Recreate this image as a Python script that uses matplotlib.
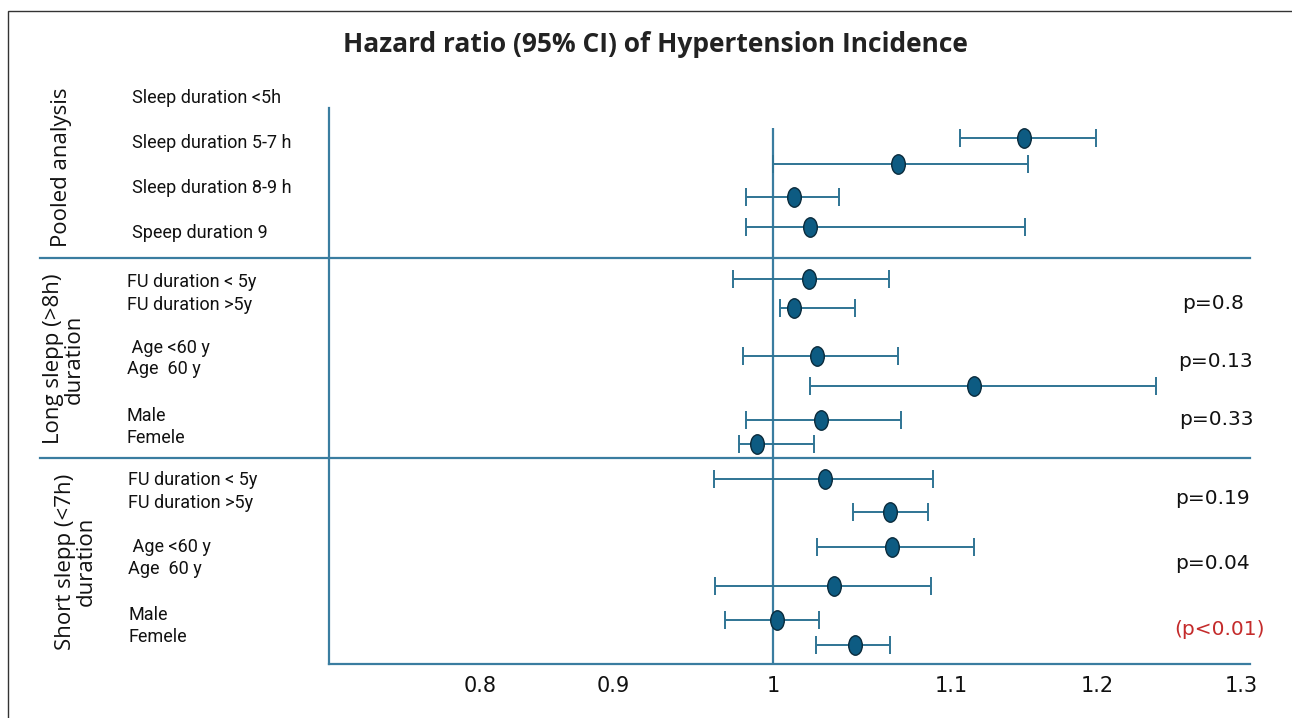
import numpy as np
import matplotlib.pyplot as plt
from matplotlib import font_manager
from matplotlib.path import Path
from matplotlib.transforms import Affine2D
from matplotlib.patches import Rectangle

# ---- data ----
title = "Hazard ratio (95% CI) of Hypertension Incidence"

row_labels = [
    "Sleep duration <5h", "Sleep duration 5-7 h", "Sleep duration 8-9 h", "Speep duration 9",
    "FU duration < 5y", "FU duration >5y", " Age <60 y", "Age  60 y", "Male", "Femele",
    "FU duration < 5y", "FU duration >5y", " Age <60 y", "Age  60 y", "Male", "Femele",
]
group_labels = ["Pooled analysis", "Long slepp (>8h)\nduration", "Short slepp (<7h)\nduration"]

hr      = [1.150, 1.070, 1.012, 1.021, 1.020, 1.012, 1.025, 1.116,
           1.027, 0.990, 1.029, 1.066, 1.067, 1.034, 1.002, 1.046]
ci_low  = [1.106, 1.000, 0.983, 0.983, 0.975, 1.004, 0.981, 1.021,
           0.983, 0.979, 0.963, 1.045, 1.025, 0.964, 0.970, 1.024]
ci_high = [1.199, 1.153, 1.037, 1.151, 1.065, 1.046, 1.070, 1.241,
           1.072, 1.023, 1.090, 1.087, 1.116, 1.089, 1.026, 1.066]

p_labels = ["p=0.8", "p=0.13", "p=0.33", "p=0.19", "p=0.04", "(p<0.01)"]
tick_values = [0.8, 0.9, 1.0, 1.1, 1.2, 1.3]
tick_labels = ["0.8", "0.9", "1", "1.1", "1.2", "1.3"]

# ---- layout (row units: one unit ~ half a label pair) ----
label_y = [0, 2, 4, 6, 8.16, 9.2, 11.11, 12.04, 14.13, 15.1,
           16.98, 18.0, 19.96, 20.93, 22.98, 23.98]
label_px = [132, 132, 132, 132, 127, 127, 127, 127, 127, 127,
            128, 128, 128, 128, 128, 128]
est_y = [1.76, 2.93, 4.4, 5.72, 8.04, 9.33, 11.45, 12.8,
         14.31, 15.38, 16.93, 18.4, 19.96, 21.69, 23.2, 24.31]
p_y = [9.13, 11.73, 14.31, 17.82, 20.67, 23.64]
p_px = [1182, 1178, 1179, 1175, 1175, 1174]
group_y = [3.07, 11.6, 20.6]
group_px = [61, 64, 76]
sep_y = [7.11, 16.0]

# the reference axis is drawn with uneven spacing between tick labels
knot_vals = [0.6, 0.8, 0.9, 1.0, 1.1, 1.2, 1.3, 1.4]
knot_pos = [214, 480, 613, 773, 951, 1097, 1241, 1385]

def fwd(x):
    return np.interp(x, knot_vals, knot_pos)

def inv(x):
    return np.interp(x, knot_pos, knot_vals)

line_col = "#3A7DA0"
err_col = "#2F7494"
dot_col = "#0D5B82"
dot_edge = "#0A2B3C"

names = {f.name for f in font_manager.fontManager.ttflist}
narrow = "Liberation Sans Narrow" if "Liberation Sans Narrow" in names else "Roboto"

W, H = 1292, 718
fig = plt.figure(figsize=(W / 100, H / 100), dpi=100)
ax_l, ax_r, ax_t, ax_b = 329, 1250, 108, 664
ax = fig.add_axes([ax_l / W, 1 - ax_b / H, (ax_r - ax_l) / W, (ax_b - ax_t) / H])

def frac(px):
    return (px - ax_l) / (ax_r - ax_l)

ax.set_xscale("function", functions=(fwd, inv))
ax.set_xlim(inv(ax_l), inv(ax_r))
ax.set_ylim(25.16, 0.44)

for s in ["top", "right"]:
    ax.spines[s].set_visible(False)
for s in ["left", "bottom"]:
    ax.spines[s].set_color(line_col)
    ax.spines[s].set_linewidth(1.6)

ax.set_yticks([])
ax.set_xticks(tick_values)
ax.set_xticklabels(tick_labels, fontsize=15, family="DejaVu Sans", color="#111111")
ax.tick_params(axis="x", length=0, pad=9)

# reference line at HR = 1
ax.vlines(1.0, 1.33, 25.16, color=line_col, lw=1.6, zorder=1)

# group separators
for y in sep_y:
    ax.axhline(y, xmin=frac(40), xmax=1, color=line_col, lw=1.6, clip_on=False)

# estimates
ellipse = Path.unit_circle().transformed(Affine2D().scale(0.7, 1.0))
hr_a = np.array(hr)
xerr = [hr_a - np.array(ci_low), np.array(ci_high) - hr_a]
ax.errorbar(hr, est_y, xerr=xerr, fmt="none", ecolor=err_col, elinewidth=1.4,
            capsize=6.5, capthick=1.4, zorder=2)
ax.plot(hr, est_y, ls="none", marker=ellipse, markersize=14,
        markerfacecolor=dot_col, markeredgecolor=dot_edge, markeredgewidth=1.0, zorder=3)

# row labels
ytr = ax.get_yaxis_transform()
for lab, y, px in zip(row_labels, label_y, label_px):
    ax.text(frac(px), y, lab, transform=ytr, ha="left", va="center",
            fontsize=13, family=narrow, color="#111111", clip_on=False)

# group labels
for lab, y, px in zip(group_labels, group_y, group_px):
    ax.text(frac(px), y, lab, transform=ytr, ha="center", va="center", rotation=90,
            multialignment="center", fontsize=16, family="Open Sans", color="#111111",
            linespacing=1.0, clip_on=False)

# p-values
for lab, y, px in zip(p_labels, p_y, p_px):
    col = "#C42B2B" if "<" in lab else "#111111"
    ax.text(frac(px), y, lab, transform=ytr, ha="left", va="center",
            fontsize=14.5, family="DejaVu Sans", color=col, clip_on=False)

fig.text(655 / W, 1 - 45 / H, title, ha="center", va="center",
         fontsize=19, fontweight="bold", family="Open Sans", color="#222222")

# outer frame
fig.add_artist(Rectangle((7.5 / W, -0.02), 1.2, 1 - 10.5 / H + 0.02,
                         transform=fig.transFigure, fill=False, ec="#333333", lw=1.0))

fig.savefig("out.png", dpi=100)
